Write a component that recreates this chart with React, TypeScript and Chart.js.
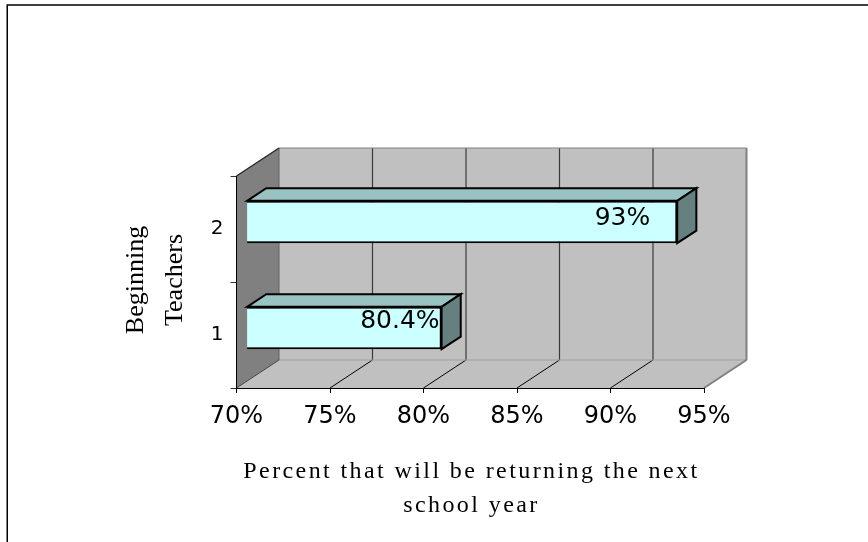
import { useEffect, useRef } from 'react';
import { Chart, registerables } from 'chart.js';

Chart.register(...registerables);

// Survey result: share of beginning teachers returning next school year
const categories = ['1', '2'];
const returningPct = [80.4, 93];
const percentTicks = [70, 75, 80, 85, 90, 95];
const valueAxisTitle = ['Percent that will be returning the next', 'school year'];
const categoryAxisTitle = ['Beginning', 'Teachers'];

const WIDTH = 868;
const HEIGHT = 542;

// Depth of the 3-D box (back wall offset from the front plane)
const DEPTH_X = 42.5;
const DEPTH_Y = 28;
// Bars sit in the middle of the depth: front face at 25%, 45% deep
const BAR_FRONT = 0.25;
const BAR_DEPTH = 0.45;

const WALL = '#C0C0C0';
const SIDE_WALL = '#808080';
const WALL_EDGE = '#808080';
const GRID = '#3a3a3a';
const BAR_FACE = '#CCFFFF';
const BAR_TOP = '#99C3C3';
const BAR_SIDE = '#668080';

const SANS = '"DejaVu Sans", "Liberation Sans", Arial, sans-serif';
const SERIF = '"Liberation Serif", "Times New Roman", serif';

// Nudge of each value label from the bar's right end
const labelNudge = [
  { dx: -2, dy: -7 },
  { dx: -27, dy: -4 },
];

type Pt = [number, number];

function poly(ctx: CanvasRenderingContext2D, pts: Pt[], fill: string | null, stroke?: string, lw = 1) {
  ctx.beginPath();
  ctx.moveTo(pts[0][0], pts[0][1]);
  for (let i = 1; i < pts.length; i++) ctx.lineTo(pts[i][0], pts[i][1]);
  ctx.closePath();
  if (fill) {
    ctx.fillStyle = fill;
    ctx.fill();
  }
  if (stroke) {
    ctx.strokeStyle = stroke;
    ctx.lineWidth = lw;
    ctx.lineJoin = 'miter';
    ctx.stroke();
  }
}

function line(ctx: CanvasRenderingContext2D, a: Pt, b: Pt, color: string, lw = 1) {
  ctx.beginPath();
  ctx.moveTo(a[0], a[1]);
  ctx.lineTo(b[0], b[1]);
  ctx.strokeStyle = color;
  ctx.lineWidth = lw;
  ctx.stroke();
}

const box3d = {
  id: 'box3d',
  beforeDraw(chart: any) {
    const { ctx, chartArea: a } = chart;
    const xs = chart.scales.x;
    const L = a.left, R = a.right, T = a.top, B = a.bottom;
    const bT = T - DEPTH_Y, bB = B - DEPTH_Y;
    ctx.save();

    // side wall, back wall, floor
    poly(ctx, [[L, T], [L + DEPTH_X, bT], [L + DEPTH_X, bB], [L, B]], SIDE_WALL);
    poly(ctx, [[L + DEPTH_X, bT], [R + DEPTH_X, bT], [R + DEPTH_X, bB], [L + DEPTH_X, bB]], WALL);
    poly(ctx, [[L, B], [L + DEPTH_X, bB], [R + DEPTH_X, bB], [R, B]], WALL);

    // gridlines on the back wall and across the floor
    for (const t of xs.ticks) {
      if (t.value <= xs.min || t.value >= xs.max) continue;
      const px = xs.getPixelForValue(t.value);
      line(ctx, [px + DEPTH_X, bT], [px + DEPTH_X, bB], GRID, 1.2);
      line(ctx, [px, B], [px + DEPTH_X, bB], '#000', 1);
    }

    // wall edges
    line(ctx, [L + DEPTH_X, bT], [R + DEPTH_X, bT], WALL_EDGE, 1);
    line(ctx, [R + DEPTH_X, bT], [R + DEPTH_X, bB], WALL_EDGE, 2);
    line(ctx, [L + DEPTH_X, bB], [R + DEPTH_X, bB], '#a0a0a0', 1);
    line(ctx, [R, B], [R + DEPTH_X, bB], WALL_EDGE, 2);
    line(ctx, [L + DEPTH_X, bT], [L + DEPTH_X, bB], '#606060', 1);
    line(ctx, [L, T], [L + DEPTH_X, bT], '#202020', 1.2);
    line(ctx, [L, B], [L + DEPTH_X, bB], '#404040', 1);
    ctx.restore();
  },
  beforeDatasetsDraw(chart: any) {
    const ctx = chart.ctx;
    ctx.save();
    ctx.translate(BAR_FRONT * DEPTH_X, -BAR_FRONT * DEPTH_Y);
  },
  afterDatasetsDraw(chart: any) {
    const ctx = chart.ctx;
    const xs = chart.scales.x;
    const dx = BAR_DEPTH * DEPTH_X;
    const dy = BAR_DEPTH * DEPTH_Y;
    const meta = chart.getDatasetMeta(0);
    const values = chart.data.datasets[0].data as number[];
    // the bar body starts where the value axis starts (it is clipped there)
    const axisStart = xs.getPixelForValue(xs.min);
    meta.data.forEach((bar: any, i: number) => {
      const { x, y, base, height } = bar.getProps(['x', 'y', 'base', 'height'], true);
      const top = y - height / 2;
      const bottom = y + height / 2;
      const x0 = Math.max(Math.min(base, x), axisStart);
      const x1 = Math.max(base, x);
      poly(ctx, [[x0, top], [x0 + dx, top - dy], [x1 + dx, top - dy], [x1, top]], BAR_TOP, '#000', 2);
      poly(ctx, [[x1, top], [x1 + dx, top - dy], [x1 + dx, bottom - dy], [x1, bottom]], BAR_SIDE, '#000', 2);

      const n = labelNudge[i] || { dx: -6, dy: -5 };
      ctx.font = `25px ${SANS}`;
      ctx.fillStyle = '#000';
      ctx.textAlign = 'right';
      ctx.textBaseline = 'middle';
      ctx.fillText(`${values[i]}%`, x1 + n.dx, y + n.dy);
    });
    ctx.restore();
  },
  afterDraw(chart: any) {
    const { ctx, chartArea: a } = chart;
    ctx.save();
    ctx.fillStyle = '#000';

    // value axis title, slightly spaced letters
    ctx.font = `24px ${SERIF}`;
    ctx.textAlign = 'center';
    ctx.textBaseline = 'alphabetic';
    const spacing = 2.4;
    (ctx as any).letterSpacing = `${spacing}px`;
    const cx = (a.left + a.right) / 2 + spacing / 2;
    valueAxisTitle.forEach((t, i) => ctx.fillText(t, cx, a.bottom + 90 + i * 34));
    (ctx as any).letterSpacing = '0px';

    // category axis title, rotated
    ctx.font = `26px ${SERIF}`;
    const cy = (a.top + a.bottom) / 2 - 2;
    categoryAxisTitle.forEach((t, i) => {
      ctx.save();
      ctx.translate(a.left - 93.5 + i * 39, cy);
      ctx.rotate(-Math.PI / 2);
      ctx.fillText(t, 0, 0);
      ctx.restore();
    });

    // outer frame (top and left edges)
    ctx.beginPath();
    ctx.moveTo(7.25, HEIGHT);
    ctx.lineTo(7.25, 5);
    ctx.lineTo(WIDTH, 5);
    ctx.strokeStyle = '#000';
    ctx.lineWidth = 1.5;
    ctx.stroke();
    ctx.restore();
  },
};

export default function App() {
  const ref = useRef<HTMLCanvasElement | null>(null);

  useEffect(() => {
    if (!ref.current) return;
    const chart = new Chart(ref.current, {
      type: 'bar',
      data: {
        labels: categories,
        datasets: [
          {
            data: returningPct,
            backgroundColor: BAR_FACE,
            borderColor: '#000',
            borderWidth: 2,
            borderSkipped: false,
            categoryPercentage: 1,
            barPercentage: 0.4,
          },
        ],
      },
      options: {
        indexAxis: 'y',
        responsive: false,
        animation: false,
        events: [],
        layout: { padding: { left: 0, right: 164, top: 176, bottom: 0 } },
        plugins: {
          legend: { display: false },
          title: { display: false },
          tooltip: { enabled: false },
        },
        scales: {
          x: {
            type: 'linear',
            min: percentTicks[0],
            max: percentTicks[percentTicks.length - 1],
            afterBuildTicks: (s: any) => {
              s.ticks = percentTicks.map((v) => ({ value: v }));
            },
            afterFit: (s: any) => {
              s.height = 154;
            },
            grid: { drawOnChartArea: false, drawTicks: true, tickLength: 5, color: '#000' },
            border: { display: true, color: '#000', width: 1 },
            ticks: {
              padding: 9,
              color: '#000',
              font: { family: SANS, size: 24 },
              callback: (v: any) => `${v}%`,
              maxRotation: 0,
              autoSkip: false,
            },
          },
          y: {
            type: 'category',
            reverse: true,
            afterFit: (s: any) => {
              s.width = 236.5;
            },
            grid: { drawOnChartArea: false, drawTicks: true, tickLength: 6, color: '#333' },
            border: { display: true, color: '#000', width: 1 },
            ticks: {
              padding: 7,
              color: '#000',
              font: { family: SANS, size: 20 },
            },
          },
        },
      },
      plugins: [box3d],
    });
    return () => chart.destroy();
  }, []);

  return (
    <div style={{ position: 'absolute', left: 0, top: 0, width: WIDTH, height: HEIGHT, background: '#fff' }}>
      <canvas ref={ref} width={WIDTH} height={HEIGHT} style={{ display: 'block' }} />
    </div>
  );
}
